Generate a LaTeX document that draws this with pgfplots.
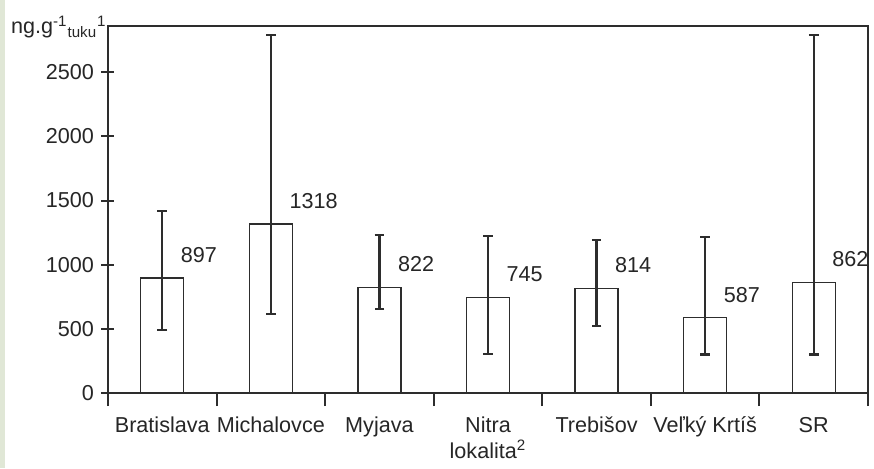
\documentclass[border=0pt]{standalone}
\usepackage{fontspec}
\setmainfont{Liberation Sans}
\usepackage{pgfplots}
\pgfplotsset{compat=1.18}
\definecolor{ax}{RGB}{45,45,45}
\definecolor{strip}{RGB}{224,231,214}
\begin{document}
\fontsize{10.8}{13}\selectfont
\begin{tikzpicture}
\fill[white] (-54pt,-37.5pt) rectangle (383pt,196.5pt);
\fill[strip] (-54pt,-37.5pt) rectangle (-51.5pt,196.5pt);
\begin{axis}[
  at={(0,0)}, anchor=south west, scale only axis,
  width=380pt, height=183.5pt,
  xmin=-0.5, xmax=6.5, ymin=0, ymax=2860,
  axis line style={ax, line width=0.85pt},
  xtick={-0.5,0.5,1.5,2.5,3.5,4.5,5.5,6.5},
  x tick label as interval,
  xticklabels={Bratislava,Michalovce,Myjava,Nitra,Trebišov,Veľký Krtíš,SR},
  ytick={0,500,...,2500},
  tick align=center, major tick length=6.5pt,
  tick style={ax, line width=1pt},
  xtick pos=bottom, ytick pos=left,
  /pgf/number format/1000 sep={},
  /pgf/number format/assume math mode=true,
  xticklabel style={anchor=base, yshift=-13pt, text=black!85},
  yticklabel style={anchor=east, text=black!85},
  xlabel={lokalita\textsuperscript{2}},
  xlabel style={at={(axis description cs:0.5,0)}, anchor=base, yshift=-32.5pt, text=black!85},
  ylabel={ng.g\textsuperscript{-1}\textsubscript{tuku}\textsuperscript{1}},
  ylabel style={rotate=-90, at={(axis description cs:0,1)}, anchor=base east, yshift=-4pt, xshift=-0.5pt, inner sep=0pt, text=black!85},
  ybar, bar width=21.5pt,
]
\addplot[fill=white, draw=ax, line width=0.65pt,
  nodes near coords,
  nodes near coords style={anchor=west, inner sep=0pt, xshift=9pt, yshift=11.5pt, text=black!85},
  error bars/.cd, y dir=both, y explicit,
  error bar style={line width=1.2pt, draw=ax},
  error mark options={line width=1.2pt, mark size=2.4pt, rotate=90, draw=ax}]
coordinates {
  (0,897) += (0,523) -= (0,407)
  (1,1318) += (0,1472) -= (0,703)
  (2,822) += (0,408) -= (0,168)
  (3,745) += (0,478) -= (0,441)
  (4,814) += (0,378) -= (0,294)
  (5,587) += (0,628) -= (0,287)
  (6,862) += (0,1928) -= (0,562)
};
\end{axis}
\end{tikzpicture}
\end{document}
